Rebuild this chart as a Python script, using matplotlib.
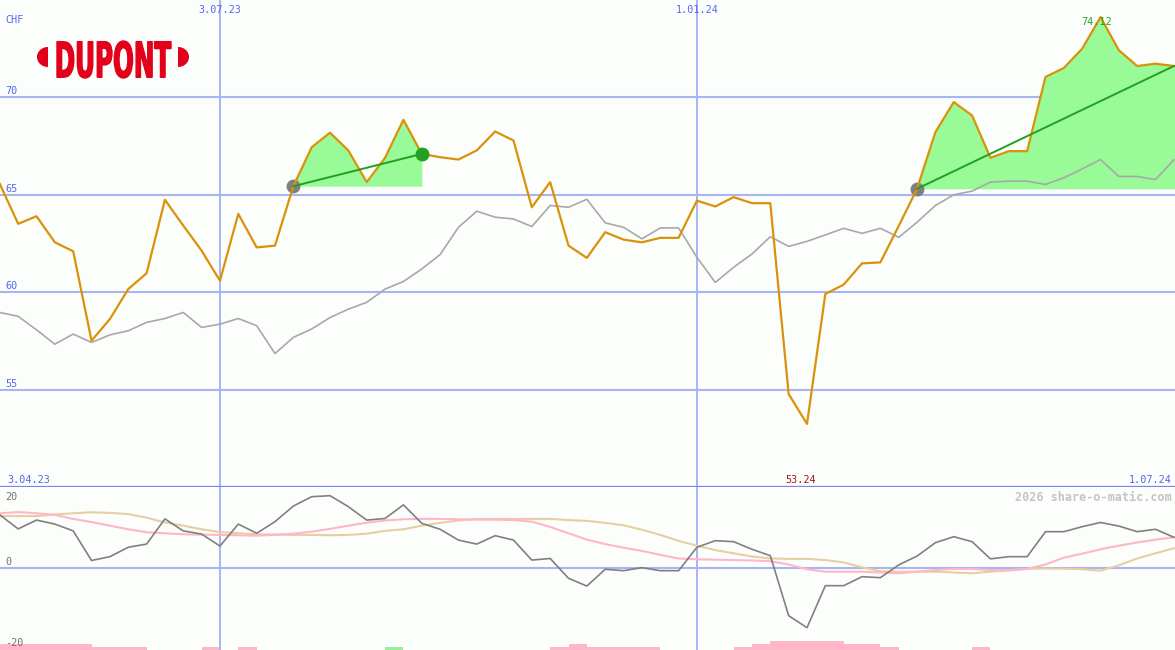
import numpy as np
import matplotlib
matplotlib.use("Agg")
import matplotlib.pyplot as plt
from matplotlib.textpath import TextPath
from matplotlib.font_manager import FontProperties
from matplotlib.patches import PathPatch, Polygon
from matplotlib.transforms import Affine2D

# weekly values, 10.04.23 .. 1.07.24 (week index 0..64)
price = [65.56, 63.51, 63.90, 62.56, 62.10, 57.51, 58.62, 60.16, 60.97, 64.74,
         63.42, 62.13, 60.59, 64.02, 62.30, 62.39, 65.44, 67.44, 68.19, 67.27,
         65.65, 66.90, 68.85, 67.10, 66.93, 66.81, 67.28, 68.25, 67.79, 64.36,
         65.65, 62.39, 61.76, 63.08, 62.70, 62.56, 62.79, 62.79, 64.70, 64.40,
         64.88, 64.57, 64.57, 54.77, 53.24, 59.91, 60.39, 61.48, 61.53, 63.40,
         65.31, 68.22, 69.76, 69.07, 66.90, 67.24, 67.24, 71.05, 71.51, 72.50,
         74.12, 72.42, 71.61, 71.73, 71.61]
compare = [58.96, 58.76, 58.07, 57.33, 57.85, 57.42, 57.81, 58.02, 58.45, 58.65,
           58.96, 58.19, 58.36, 58.65, 58.28, 56.85, 57.68, 58.11, 58.70, 59.13,
           59.48, 60.16, 60.55, 61.19, 61.93, 63.33, 64.16, 63.85, 63.76, 63.37,
           64.45, 64.36, 64.77, 63.56, 63.33, 62.74, 63.30, 63.30, 61.79, 60.50,
           61.28, 61.96, 62.85, 62.35, 62.61, 62.94, 63.28, 63.02, 63.28, 62.82,
           63.59, 64.45, 65.00, 65.19, 65.65, 65.70, 65.70, 65.53, 65.87, 66.33,
           66.81, 65.94, 65.94, 65.78, 66.80]
momentum = [13.2, 9.7, 11.9, 10.9, 9.2, 1.8, 2.75, 5.1, 5.9, 12.2,
            9.2, 8.4, 5.4, 10.9, 8.6, 11.5, 15.4, 17.75, 18.0, 15.25,
            11.9, 12.3, 15.7, 11.1, 9.6, 6.9, 5.9, 8.0, 6.9, 1.9,
            2.3, -2.65, -4.6, -0.4, -0.75, 0.0, -0.75, -0.75, 5.1, 6.75,
            6.5, 4.6, 3.0, -12.0, -15.0, -4.5, -4.5, -2.25, -2.5, 0.7,
            2.9, 6.25, 7.75, 6.5, 2.2, 2.75, 2.75, 9.0, 9.0, 10.25,
            11.3, 10.4, 9.0, 9.6, 7.6]
mom_fast = [13.6, 13.9, 13.6, 13.2, 12.2, 11.4, 10.5, 9.6, 8.85, 8.6,
            8.35, 8.25, 8.2, 8.1, 8.0, 8.2, 8.5, 9.0, 9.7, 10.5,
            11.25, 11.8, 12.1, 12.2, 12.2, 12.1, 12.0, 12.0, 11.9, 11.5,
            10.2, 8.6, 7.0, 5.9, 5.0, 4.2, 3.2, 2.3, 2.1, 2.0,
            1.9, 1.8, 1.6, 0.8, -0.4, -1.0, -1.0, -1.0, -1.2, -1.4,
            -1.0, -0.6, -0.3, -0.3, -0.6, -0.6, -0.3, 0.8, 2.5, 3.5,
            4.6, 5.5, 6.3, 7.0, 7.6]
mom_slow = [12.9, 12.9, 12.9, 13.3, 13.6, 13.85, 13.7, 13.4, 12.5, 11.3,
            10.5, 9.6, 8.9, 8.6, 8.35, 8.3, 8.2, 8.2, 8.1, 8.2,
            8.5, 9.2, 9.6, 10.5, 11.2, 11.8, 12.2, 12.2, 12.2, 12.2,
            12.2, 11.9, 11.7, 11.2, 10.6, 9.5, 8.2, 6.7, 5.5, 4.4,
            3.6, 2.8, 2.3, 2.2, 2.2, 1.9, 1.3, 0.1, -0.9, -1.0,
            -1.0, -1.0, -1.2, -1.4, -1.0, -0.7, -0.3, -0.2, -0.25, -0.4,
            -0.75, 0.6, 2.3, 3.6, 4.85]

# signal bars at the bottom
bar_weeks = [0, 1, 2, 3, 4, 5, 6, 7, 11, 13, 21, 30, 31, 32, 33, 34, 35,
             40, 41, 42, 43, 44, 45, 46, 47, 48, 53]
bar_values = [1.5, 1.5, 1.5, 1.5, 1.5, 0.75, 0.75, 0.75, 0.75, 0.75, 0.75, 0.75, 1.5, 0.75, 0.75, 0.75, 0.75,
              0.75, 1.5, 2.25, 2.25, 2.25, 2.25, 1.5, 1.5, 0.75, 0.75]
bar_up = [21]

# trend segments (start week, end week)
trends = [(16, 23), (50, 64)]
trend_closed = [True, False]

date_ticks = [12, 38]
date_labels = ["3.07.23", "1.01.24"]
price_levels = [55, 60, 65, 70]
first_date, last_date = "3.04.23", "1.07.24"

weeks = np.arange(len(price))
bg = "#FCFEFC"
grid_c = "#A8B4F4"
blue_txt = "#5566EE"
mono = "DejaVu Sans Mono"
fs = 7.3

fig = plt.figure(figsize=(11.75, 6.5), dpi=100, facecolor=bg)
ax = fig.add_axes([0, 163 / 650, 1, 487 / 650], facecolor=bg)
bx = fig.add_axes([0, 0, 1, 163 / 650], facecolor=bg)

for a in (ax, bx):
    a.set_xlim(0.01, 64.06)
    a.set_xticks([])
    a.set_yticks([])
    for s in a.spines.values():
        s.set_visible(False)
    for t in date_ticks:
        a.axvline(t, color=grid_c, lw=1.4, zorder=1)

ax.set_ylim(50, 75)
bx.set_ylim(-20.58, 20.17)

# price panel
for lv in price_levels:
    ax.axhline(lv, color=grid_c, lw=1.5, zorder=1)
    ax.annotate(str(lv), xy=(0, lv), xycoords=("axes fraction", "data"),
                xytext=(5, 3), textcoords="offset pixels", va="baseline",
                fontsize=fs, family=mono, color=blue_txt)
ax.axhline(50, color="#7585F0", lw=1.6, zorder=6, clip_on=False)

for (s, e), closed in zip(trends, trend_closed):
    xs = weeks[s:e + 1]
    ys = np.array(price[s:e + 1])
    base = price[s]
    if not closed:
        xs = np.append(xs, 64.06)
        ys = np.append(ys, ys[-1])
    ax.fill_between(xs, base, ys, color="#98FB98", lw=0, zorder=2)
    ax.plot([s, e], [price[s], price[e]], color="#22A022", lw=1.4, zorder=5)
    ax.plot(s, price[s], "o", ms=9, color="#808080", zorder=3)
    if closed:
        ax.plot(e, price[e], "o", ms=9, color="#22A022", zorder=6)

ax.plot(weeks, compare, color="#A8A8A8", lw=1.2, zorder=3)
ax.plot(weeks, price, color="#D9920A", lw=1.6, zorder=4)

ax.text(0.005, 0.958, "CHF", transform=ax.transAxes, fontsize=fs, family=mono,
        color=blue_txt, va="center")
for t, lab in zip(date_ticks, date_labels):
    ax.annotate(lab, xy=(t, 1), xycoords=("data", "axes fraction"), xytext=(0, -13),
                textcoords="offset pixels", ha="center", va="baseline",
                fontsize=fs, family=mono, color=blue_txt)
imax = int(np.argmax(price))
imin = int(np.argmin(price))
ax.annotate(f"{price[imax]:.2f}", xy=(imax, price[imax]), xytext=(-4, -8),
            textcoords="offset pixels", ha="center", va="baseline",
            fontsize=fs, family=mono, color="#22A022", zorder=7)
ax.annotate(f"{price[imin]:.2f}", xy=(imin, 0), xycoords=("data", "axes fraction"),
            xytext=(-6, 4), textcoords="offset pixels", ha="center", va="baseline",
            fontsize=fs, family=mono, color="#A01818")
ax.annotate(first_date, xy=(0, 0), xycoords="axes fraction", xytext=(7, 4),
            textcoords="offset pixels", va="baseline", fontsize=fs, family=mono, color=blue_txt)
ax.annotate(last_date, xy=(1, 0), xycoords="axes fraction", xytext=(-3, 4),
            textcoords="offset pixels", ha="right", va="baseline", fontsize=fs,
            family=mono, color=blue_txt)

# indicator panel
bx.axhline(0, color=grid_c, lw=1.5, zorder=1)
for lv in (20, 0, -20):
    bx.annotate(str(lv), xy=(0, lv), xycoords=("axes fraction", "data"),
                xytext=(5, 3 if lv == 0 else -12 if lv == 20 else 2),
                textcoords="offset pixels", va="baseline", fontsize=fs,
                family=mono, color="#707070")
bar_cols = ["#98F098" if w in bar_up else "#FFB6C8" for w in bar_weeks]
bx.bar(bar_weeks, bar_values, width=1.0, align="edge", bottom=-20.58,
       color=bar_cols, lw=0, zorder=0.5)
bx.plot(weeks, mom_slow, color="#E6CFA0", lw=1.5, zorder=2)
bx.plot(weeks, mom_fast, color="#FFB6C8", lw=1.5, zorder=2)
bx.plot(weeks, momentum, color="#808080", lw=1.2, zorder=3)
bx.annotate("2026 share-o-matic.com", xy=(1, 1), xycoords="axes fraction",
            xytext=(-3, -14), textcoords="offset pixels", ha="right", va="baseline",
            fontsize=8.5, family=mono, color="#C4C4C4", weight="bold")

# logo
lax = fig.add_axes([0, 0, 1, 1], zorder=10)
lax.set_xlim(0, 1175)
lax.set_ylim(650, 0)
lax.axis("off")
tp = TextPath((0, 0), "DUPONT", size=10,
              prop=FontProperties(family=["DejaVu Sans"], weight="bold"))
ext = tp.get_extents()
tr = Affine2D().translate(-ext.x0, -ext.y0).scale(114 / ext.width, -37 / ext.height).translate(57, 78)
lax.add_patch(PathPatch(tr.transform_path(tp), fc="#E2001A", ec="#E2001A", lw=1.0))
th = np.linspace(np.pi / 2, 3 * np.pi / 2, 40)
lax.add_patch(Polygon(np.column_stack([48 + 11 * np.cos(th), 57 + 10 * np.sin(th)]),
                      fc="#E2001A", ec="none"))
th = np.linspace(-np.pi / 2, np.pi / 2, 40)
lax.add_patch(Polygon(np.column_stack([178 + 11 * np.cos(th), 57 + 10 * np.sin(th)]),
                      fc="#E2001A", ec="none"))

fig.savefig("out.png", dpi=100, facecolor=bg)
